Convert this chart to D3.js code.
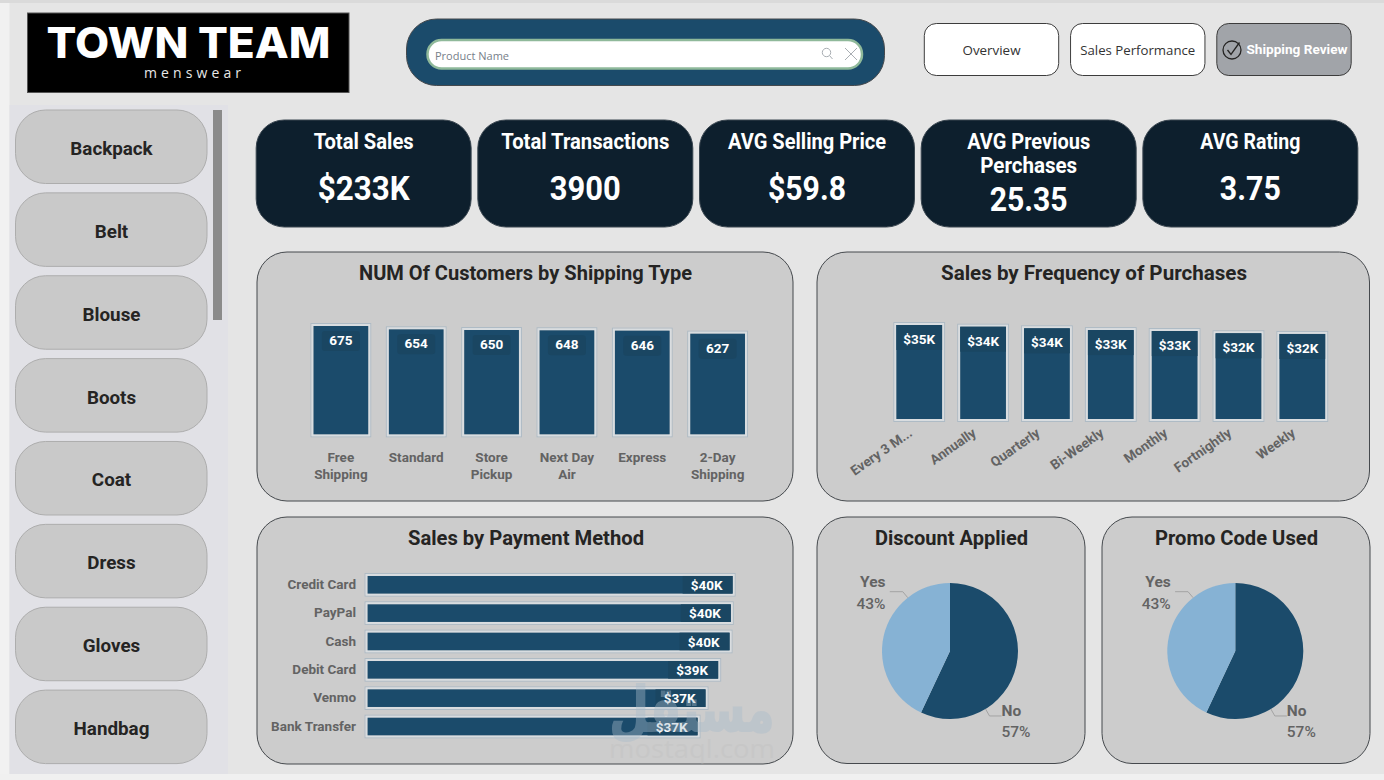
<!DOCTYPE html>
<html>
<head>
<meta charset="utf-8">
<title>Town Team - Shipping Review</title>
<script src="https://cdn.jsdelivr.net/npm/d3@7"></script>
<style>
  html, body { margin: 0; padding: 0; background: #e5e5e5; overflow: hidden; }
  svg { display: block; }
  text { font-family: "Open Sans", sans-serif; }
  .din { font-family: "Roboto", sans-serif; font-weight: 700; }
</style>
</head>
<body>
<svg id="board" width="1384" height="780"></svg>
<script>
// Slicer and navigation content
const products = ["Backpack", "Belt", "Blouse", "Boots", "Coat", "Dress", "Gloves", "Handbag"];
const navItems = ["Overview", "Sales Performance", "Shipping Review"];

// Headline figures
const kpiTitles = [["Total Sales"], ["Total Transactions"], ["AVG Selling Price"], ["AVG Previous", "Perchases"], ["AVG Rating"]];
const kpiValues = ["$233K", "3900", "$59.8", "25.35", "3.75"];

// Customers by shipping type
const shippingTypes = ["Free Shipping", "Standard", "Store Pickup", "Next Day Air", "Express", "2-Day Shipping"];
const shippingCustomers = [675, 654, 650, 648, 646, 627];

// Sales by purchase frequency, in $K
const frequencies = ["Every 3 M...", "Annually", "Quarterly", "Bi-Weekly", "Monthly", "Fortnightly", "Weekly"];
const frequencySales = [35.1, 34.45, 33.85, 33.2, 32.85, 32.0, 31.75];

// Sales by payment method, in $K
const paymentMethods = ["Credit Card", "PayPal", "Cash", "Debit Card", "Venmo", "Bank Transfer"];
const paymentSales = [40.4, 40.2, 40.06, 38.8, 37.4, 36.52];

// Share of transactions, in percent
const yesNoLabels = ["No", "Yes"];
const discountShare = [57, 43];
const promoShare = [57, 43];

const NAVY = "#1b4b6b", DEEP = "#0d1f2d", PANEL = "#cccccc", EDGE = "#45494d", MUTED = "#636363", INK = "#252423";
const LABEL_BG = "#1a4662";
const AXIS_FONT = 'Roboto, sans-serif';
const usd = v => `$${Math.round(v)}K`;

const svg = d3.select("#board");

// Adds a text node squeezed or stretched to a set width
function label(parent, str, x, y, size, opts = {}) {
  const t = parent.append("text")
    .attr("x", x).attr("y", y)
    .attr("font-size", size)
    .attr("fill", opts.fill || INK)
    .attr("text-anchor", opts.anchor || "middle")
    .text(str);
  if (opts.din) t.attr("class", "din");
  if (opts.weight) t.attr("font-weight", opts.weight);
  if (opts.family) t.style("font-family", opts.family);
  if (opts.width) t.attr("textLength", opts.width).attr("lengthAdjust", "spacingAndGlyphs");
  return t;
}

function panel(x0, y0, x1, y1, r, fill, stroke, parent = svg) {
  return parent.append("rect")
    .attr("x", x0).attr("y", y0)
    .attr("width", x1 - x0).attr("height", y1 - y0)
    .attr("rx", r).attr("ry", r)
    .attr("fill", fill).attr("stroke", stroke).attr("stroke-width", 1);
}

// Page edges
svg.append("rect").attr("width", 1384).attr("height", 3).attr("fill", "#dadada");
svg.append("rect").attr("y", 3).attr("width", 9.5).attr("height", 777).attr("fill", "#f1f1f1");
svg.append("rect").attr("y", 774).attr("width", 1384).attr("height", 6).attr("fill", "#f0f0f0");

// Logo
svg.append("rect").attr("x", 27.5).attr("y", 13).attr("width", 321.5).attr("height", 79.5).attr("fill", "#000").attr("stroke", "#555");
label(svg, "TOWN TEAM", 188.5, 58, 42.5, { fill: "#fff", weight: 800, width: 284, family: "Inter, sans-serif" });
label(svg, "menswear", 192.5, 78, 14, { fill: "#e8e8e8", width: 97 }).attr("lengthAdjust", "spacing");

// Search box
panel(406.5, 19, 884.5, 85.5, 30, NAVY, EDGE);
panel(427.5, 40, 862, 68.5, 14, "#fff", "#8fb99a").attr("stroke-width", 2.5);
label(svg, "Product Name", 435, 60, 11, { fill: "#77808a", anchor: "start" });
const searchIcons = svg.append("g").attr("fill", "none").attr("stroke", "#a9aeb3").attr("stroke-width", 1);
searchIcons.append("circle").attr("cx", 826.5).attr("cy", 52.5).attr("r", 4.2);
searchIcons.append("path").attr("d", "M829.5 55.5L832.5 59");
searchIcons.append("path").attr("d", "M845 48L857 60M857 48L845 60");

// Navigation buttons
const navX = d3.scalePoint().domain(navItems).range([991.5, 1284]);
navItems.forEach((name, i) => {
  const cx = navX(name), active = i === 2;
  panel(cx - 67.2, 23.5, cx + 67.2, 75.5, 12, active ? "#a1a4a9" : "#fff", "#3c3c3c");
  if (active) {
    label(svg, name, 1297, 54, 13.5, { fill: "#fff", din: true, width: 101 });
    const tick = svg.append("g").attr("fill", "none").attr("stroke", "#252423").attr("stroke-width", 1.3);
    tick.append("circle").attr("cx", 1232).attr("cy", 50).attr("r", 9);
    tick.append("path").attr("d", "M1227.5 50L1231 54.5L1239.5 42.5");
  } else {
    label(svg, name, cx, 55, 13, { fill: "#333", width: i === 0 ? 58 : 115 });
  }
});

// Product slicer
svg.append("rect").attr("x", 9.5).attr("y", 105).attr("width", 218.5).attr("height", 669).attr("fill", "#e1e1e6");
svg.append("rect").attr("x", 213).attr("y", 110).attr("width", 9).attr("height", 210).attr("fill", "#8b8b8b");
const slicerY = d3.scaleBand().domain(products).range([110, 763.6]).paddingInner(0.113).paddingOuter(0);
products.forEach(p => {
  const y = slicerY(p);
  panel(15.5, y, 207, y + slicerY.bandwidth(), 30, "#c9c9c9", "#adadad");
  label(svg, p, 111.5, y + 45, 18.8, { weight: 700, fill: INK, family: 'Roboto, sans-serif' });
});

// Headline cards
const cardX = d3.scaleBand().domain(kpiValues).range([253.5, 1360.5]).paddingInner(0.0302).paddingOuter(0.012);
const titleWidths = [[100], [168], [158], [123, 97], [100]];
const valueWidths = [92, 71, 78, 78, 61];
kpiValues.forEach((v, i) => {
  const x = cardX(v), cx = x + cardX.bandwidth() / 2;
  panel(x, 120, x + cardX.bandwidth(), 227, 28, DEEP, "#3a4650");
  kpiTitles[i].forEach((line, j) => {
    label(svg, line, cx, 148.5 + j * 24, 21.5, { fill: "#fff", din: true, width: titleWidths[i][j] });
  });
  const twoLine = kpiTitles[i].length > 1;
  label(svg, v, cx, twoLine ? 211 : 199.5, 32.5, { fill: "#fff", din: true, width: valueWidths[i] });
});

// Chart panels and titles
panel(257, 252, 793, 501, 30, PANEL, EDGE);
panel(817, 252, 1369.5, 501, 30, PANEL, EDGE);
panel(257, 517, 793, 764, 30, PANEL, EDGE);
panel(817, 517, 1085, 763.5, 30, PANEL, EDGE);
panel(1102, 517, 1370, 763.5, 30, PANEL, EDGE);
label(svg, "NUM Of Customers by Shipping Type", 525.5, 280, 21, { din: true, width: 333 });
label(svg, "Sales by Frequency of Purchases", 1094, 280, 21, { din: true, width: 306 });
label(svg, "Sales by Payment Method", 526, 545, 21, { din: true, width: 236 });
label(svg, "Discount Applied", 951.5, 545, 21, { din: true, width: 153 });
label(svg, "Promo Code Used", 1236.5, 545, 21, { din: true, width: 163 });

// A filled bar with the pale double edge used across the board
function framedBar(g, x, y, w, h) {
  g.append("rect").attr("x", x - 2.5).attr("y", y - 2.5).attr("width", w + 5).attr("height", h + 5)
    .attr("fill", "none").attr("stroke", "#aebbc5").attr("stroke-width", 1);
  g.append("rect").attr("x", x - 1).attr("y", y - 1).attr("width", w + 2).attr("height", h + 2)
    .attr("fill", "none").attr("stroke", "#d9dde0").attr("stroke-width", 2);
  g.append("rect").attr("x", x).attr("y", y).attr("width", w).attr("height", h).attr("fill", NAVY);
}

// Bottom axis with no line or ticks
function bandAxis(x, baseY) {
  return svg.append("g")
    .attr("transform", `translate(0,${baseY})`)
    .call(d3.axisBottom(x).tickSize(0).tickPadding(0))
    .call(a => a.select(".domain").remove());
}

// Customers by shipping type
{
  const x = d3.scaleBand().domain(shippingTypes).range([303.2, 755.3]).paddingInner(0.274).paddingOuter(0.137);
  const y = d3.scaleLinear().domain([0, 675]).range([434.3, 326]);
  const g = svg.append("g");
  shippingTypes.forEach((name, i) => {
    const v = shippingCustomers[i], bx = x(name), top = y(v), cx = bx + x.bandwidth() / 2;
    framedBar(g, bx, top, x.bandwidth(), y(0) - top);
    g.append("rect").attr("x", cx - 19).attr("y", top + 5).attr("width", 38).attr("height", 20).attr("rx", 3).attr("fill", LABEL_BG);
    label(g, String(v), cx, top + 19, 13.5, { fill: "#fff", weight: 700, family: AXIS_FONT });
  });
  const axis = bandAxis(x, 434.3);
  axis.selectAll("text").each(function (name) {
    const cut = name.lastIndexOf(" ");
    const lines = cut < 0 ? [name] : [name.slice(0, cut), name.slice(cut + 1)];
    const t = d3.select(this).text(null).attr("y", 27.5).attr("dy", null)
      .attr("font-size", 13.5).attr("font-weight", 700).attr("fill", MUTED)
      .style("font-family", AXIS_FONT);
    lines.forEach((line, j) => t.append("tspan").attr("x", 0).attr("dy", j ? 17 : 0).text(line));
  });
}

// Sales by purchase frequency
{
  const x = d3.scaleBand().domain(frequencies).range([887.3, 1334.25]).paddingInner(0.284).paddingOuter(0.142);
  const y = d3.scaleLinear().domain([0, 35.1]).range([419, 325]);
  const g = svg.append("g");
  frequencies.forEach((name, i) => {
    const v = frequencySales[i], bx = x(name), top = y(v), cx = bx + x.bandwidth() / 2;
    framedBar(g, bx, top, x.bandwidth(), y(0) - top);
    g.append("rect").attr("x", bx).attr("y", top).attr("width", x.bandwidth()).attr("height", 25).attr("fill", LABEL_BG);
    label(g, usd(v), cx, top + 19, 13.5, { fill: "#fff", weight: 700, family: AXIS_FONT });
  });
  const axis = bandAxis(x, 419);
  axis.selectAll("text")
    .attr("text-anchor", "end").attr("dy", null).attr("y", 0)
    .attr("transform", "translate(-6,16) rotate(-35)")
    .attr("font-size", 13.5).attr("font-weight", 700).attr("fill", MUTED)
    .style("font-family", AXIS_FONT);
}

// Sales by payment method
{
  const y = d3.scaleBand().domain(paymentMethods).range([570.6, 740.7]).paddingInner(0.379).paddingOuter(0.19);
  const x = d3.scaleLinear().domain([0, 40.4]).range([367.6, 732.6]);
  const g = svg.append("g");
  paymentMethods.forEach((name, i) => {
    const v = paymentSales[i], by = y(name), end = x(v);
    framedBar(g, x(0), by, end - x(0), y.bandwidth());
    g.append("rect").attr("x", end - 50).attr("y", by).attr("width", 50).attr("height", y.bandwidth()).attr("fill", LABEL_BG);
    label(g, usd(v), end - 10, by + 14, 13.5, { fill: "#fff", weight: 700, anchor: "end", family: AXIS_FONT });
  });
  svg.append("g").attr("transform", "translate(361,0)")
    .call(d3.axisLeft(y).tickSize(0).tickPadding(5))
    .call(a => a.select(".domain").remove())
    .selectAll("text")
    .attr("font-size", 13.5).attr("font-weight", 700).attr("fill", MUTED)
    .style("font-family", AXIS_FONT);
}

// Yes / no pies
function yesNoPie(values, cx, cy) {
  const r = 68;
  const pie = d3.pie().sort(null).value(d => d);
  const arc = d3.arc().innerRadius(0).outerRadius(r);
  const arcs = pie(values);
  const g = svg.append("g").attr("transform", `translate(${cx},${cy})`);
  g.selectAll("path.slice").data(arcs).join("path").attr("class", "slice")
    .attr("d", arc).attr("fill", (d, i) => i === 0 ? NAVY : "#86b2d4");

  // Leader lines leave each slice at a fixed bearing
  const start = d3.pointRadial(-0.67, r);
  const end = d3.pointRadial(Math.PI - 0.55, r);
  g.append("path").attr("fill", "none").attr("stroke", "#a3a3a3").attr("stroke-width", 1)
    .attr("d", d3.line()([start, [start[0] - 5, start[1] - 6], [start[0] - 18, start[1] - 6]]));
  g.append("path").attr("fill", "none").attr("stroke", "#a3a3a3").attr("stroke-width", 1)
    .attr("d", d3.line()([end, [end[0] + 4, end[1] + 7], [end[0] + 16, end[1] + 7]]));

  label(g, yesNoLabels[1], -64.5, -64, 15.5, { weight: 700, fill: MUTED, anchor: "end", family: AXIS_FONT });
  label(g, `${values[1]}%`, -64.5, -42, 15.5, { weight: 500, fill: MUTED, anchor: "end", family: AXIS_FONT });
  label(g, yesNoLabels[0], 51.5, 65, 15.5, { weight: 700, fill: MUTED, anchor: "start", family: AXIS_FONT });
  label(g, `${values[0]}%`, 51.5, 86, 15.5, { weight: 500, fill: MUTED, anchor: "start", family: AXIS_FONT });
}
yesNoPie(discountShare, 950, 651);
yesNoPie(promoShare, 1235.3, 651);

// Site stamp over the lower chart
label(svg, "مستقل", 692, 731, 62, { fill: "#a9bccb", weight: 700, width: 165, family: '"DejaVu Sans", sans-serif' })
  .attr("opacity", 0.4).attr("stroke", "#a9bccb").attr("stroke-width", 2);
label(svg, "mostaql.com", 692, 758, 26, { fill: "#bdbdbd", width: 166 }).attr("opacity", 0.3);
</script>
</body>
</html>
